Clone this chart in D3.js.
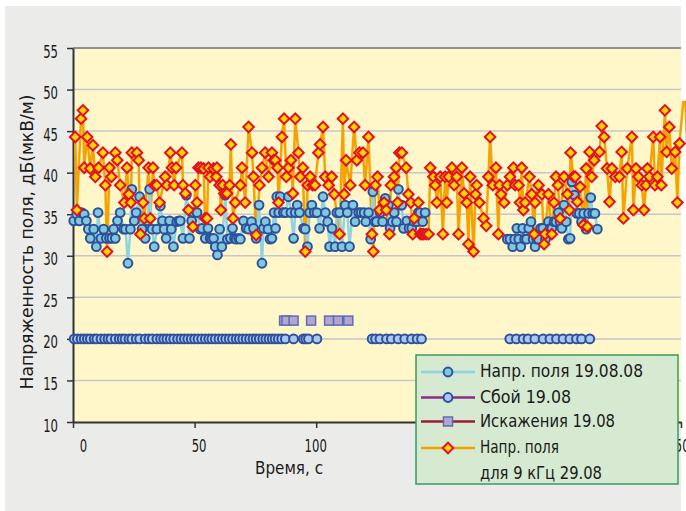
<!DOCTYPE html>
<html>
<head>
<meta charset="utf-8">
<script src="https://cdn.jsdelivr.net/npm/d3@7"></script>
<style>
  body { margin: 0; background: #ffffff; }
  svg text { font-family: "Liberation Sans Narrow", "Arial Narrow", "DejaVu Sans Condensed", sans-serif; fill: #1a1a1a; }
</style>
</head>
<body>
<svg id="chart" width="686" height="511"></svg>
<script>
// Field strength 19.08.08, measurement time (s) and level dB(uV/m); null marks a break in the record
const fieldAug19 = [
  [0.3,34.2],[1.5,35.0],[2.6,34.2],[3.6,35.2],[4.6,35.0],[5.5,34.2],[6.3,33.2],[7.1,32.1],[8.5,33.2],[9.6,31.1],
  [10.3,35.2],[11.5,32.1],[12.6,33.2],[13.7,32.1],[15.0,32.1],[16.0,32.1],[16.7,33.2],[17.4,32.1],[18.3,34.2],[19.4,35.2],
  [20.8,33.2],[21.6,33.2],[22.6,29.1],[23.6,33.2],[24.2,38.0],[25.2,34.2],[26.0,35.2],[27.4,37.1],[28.4,33.2],[29.7,32.1],
  [30.6,34.2],[31.5,38.0],[32.5,33.2],[33.4,31.1],[34.5,33.2],[35.9,36.0],[36.8,34.2],[37.5,33.2],[38.3,32.1],[39.7,34.2],
  [40.4,33.2],[41.3,31.1],[42.7,34.1],[43.6,34.2],[44.1,34.2],[45.2,32.1],[46.6,37.3],[47.9,32.1],[48.8,34.2],[49.6,35.2],
  [51.0,35.2],[52.3,33.2],[53.0,33.3],[54.4,32.1],[55.5,33.3],[56.4,32.1],[57.1,32.0],[57.8,32.1],[58.5,31.1],[59.4,30.1],
  [60.3,33.2],[61.2,31.1],[62.6,37.3],[63.5,32.0],[64.7,32.1],[65.6,33.3],[66.4,32.1],[67.1,32.0],[68.1,32.1],[68.8,32.0],
  [70.1,34.2],[71.2,33.3],[72.2,33.2],[73.4,34.1],[74.2,33.3],[75.3,32.1],[76.5,36.1],[77.7,29.1],[78.3,33.3],[79.1,34.1],
  [80.2,33.2],[81.0,32.0],[81.8,32.1],[82.7,35.2],[83.3,33.3],[83.8,37.1],[84.6,35.2],[85.2,37.1],[86.5,35.2],[87.4,35.2],
  [88.6,37.1],[89.6,35.2],[90.7,32.1],[91.4,35.2],[92.2,36.1],[93.1,35.2],[94.8,33.3],[95.5,33.2],[96.4,31.1],[97.3,35.2],
  [98.2,36.1],[99.2,35.2],[100.3,35.2],[101.4,33.3],[102.8,37.1],[103.8,35.2],[104.7,34.1],[105.5,31.1],[106.5,33.3],[107.8,31.1],
  [108.5,35.2],[109.6,35.2],[110.6,31.1],[111.9,36.1],[112.8,35.2],[113.7,31.1],[115.1,36.1],[116.0,34.1],[117.5,35.2],[118.5,35.2],
  [119.7,35.2],[120.4,34.1],[121.5,35.2],[122.4,32.0],[123.3,37.7],[124.2,34.1],[124.8,34.1],[126.3,35.2],[127.3,34.1],[128.4,36.9],
  [129.7,36.1],[130.4,33.3],[131.3,34.1],[132.1,35.2],[133.0,34.1],[133.8,38.0],[134.5,36.1],[135.2,36.1],[135.9,33.3],[137.3,34.2],
  [138.2,33.3],[139.3,33.3],[140.3,34.1],[141.4,34.1],[142.0,35.2],[142.7,35.2],[143.8,34.1],[144.8,35.2],
  null,
  [178.6,32.0],[179.7,32.0],[180.8,31.1],[181.6,32.0],[182.5,33.3],[183.3,32.0],[184.1,31.1],[184.9,33.3],[185.7,32.0],[186.5,32.0],
  [187.4,33.3],[188.3,34.1],[189.2,32.0],[190.0,31.1],[190.7,32.0],[191.4,32.0],[192.3,33.3],[193.2,33.3],[194.3,32.0],[195.5,34.1],
  [196.2,33.3],[196.9,33.3],[197.8,34.1],[198.6,34.1],[199.6,35.2],[200.3,34.1],[201.0,33.3],[201.9,36.1],[202.8,34.1],[203.7,32.0],
  [204.4,32.1],[205.1,38.9],[206.2,37.3],[207.2,35.1],[208.2,35.1],[209.1,34.1],[210.0,35.1],[211.0,33.2],[212.0,35.1],[212.9,37.0],
  [213.7,35.1],[214.6,35.1],[215.6,33.2]
];

// Receiver failures 19.08, time (s) and level
const failAug19 = [
  [0.5,20],[1.8,20],[3.3,20],[4.6,20],[5.9,20],[7.1,20],[8.7,20],[9.8,20],[11.5,20],[13.0,20],
  [14.4,20],[15.6,20],[17.4,20],[19.0,20],[20.2,20],[21.4,20],[23.0,20],[24.2,20],[26.0,20],[27.4,20],
  [29.7,20],[31.2,20],[32.6,20],[34.5,20],[36.0,20],[37.3,20],[38.6,20],[40.0,20],[41.4,20],[43.0,20],
  [44.4,20],[45.8,20],[47.2,20],[48.6,20],[50.0,20],[51.4,20],[52.9,20],[54.4,20],[55.8,20],[57.1,20],
  [58.5,20],[60.0,20],[61.4,20],[62.8,20],[64.2,20],[65.6,20],[67.1,20],[68.4,20],[69.8,20],[71.2,20],
  [72.6,20],[74.0,20],[75.3,20],[76.6,20],[78.0,20],[79.3,20],[80.6,20],[81.9,20],[83.1,20],[84.4,20],
  [85.8,20],[87.3,20],[90.7,20],[94.7,20],[95.7,20],[96.8,20],[100.3,20],
  [123.0,20],[124.4,20],[126.2,20],[128.9,20],[130.9,20],[133.7,20],[136.4,20],[139.2,20],[141.5,20],[143.3,20],
  [179.6,20],[182.3,20],[185.1,20],[187.1,20],[189.9,20],[193.3,20],[196.1,20],[198.8,20],[201.5,20],[204.3,20],
  [207.0,20],[209.1,20],[212.5,20]
];

// Distortions 19.08, time (s) and level
const distortAug19 = [
  [86.8,22.2],[87.8,22.2],[90.7,22.2],[97.9,22.2],[105.3,22.2],[109.0,22.2],[113.2,22.2]
];

// Field strength for 9 kHz 29.08, time (s) and level dB(uV/m)
const field9kHz = [
  [0.9,44.3],[1.6,35.5],[3.3,46.5],[4.1,47.5],[4.6,40.6],[5.8,44.3],[7.1,40.5],[8.2,43.3],[9.2,39.5],[10.5,40.6],
  [12.3,42.4],[13.3,38.5],[14.0,30.5],[15.0,40.6],[15.8,39.5],[17.4,42.4],[18.2,41.5],[19.4,38.5],[21.1,36.4],[22.2,40.6],
  [23.0,37.4],[23.8,36.4],[24.2,42.4],[26.3,42.4],[27.0,41.5],[27.7,32.6],[28.8,36.4],[29.3,34.5],[31.1,40.6],[31.8,34.5],
  [32.9,40.6],[33.4,38.5],[34.4,38.5],[35.6,36.4],[37.9,39.5],[38.6,38.5],[40.0,42.4],[40.7,40.6],[41.6,38.5],[42.4,40.6],
  [44.8,42.4],[45.2,38.5],[46.2,37.5],[47.5,35.5],[49.3,33.5],[50.3,38.5],[51.0,36.4],[51.6,40.6],[52.6,40.6],[53.7,40.5],
  [54.3,34.5],[55.1,34.5],[55.7,40.6],[56.4,39.5],[57.8,40.5],[58.9,39.5],[59.2,40.6],[60.3,38.5],[60.8,35.5],[61.6,38.5],
  [62.2,37.5],[63.3,37.5],[64.4,38.5],[64.9,43.4],[65.8,34.5],[66.7,36.4],[68.8,38.5],[69.5,40.6],[70.8,36.4],[72.2,45.5],
  [73.6,42.4],[74.2,39.5],[75.3,32.5],[76.7,38.5],[77.7,40.6],[79.0,42.4],[80.4,39.5],[81.8,42.4],[82.5,41.5],[83.2,41.5],
  [84.1,40.6],[84.5,36.4],[85.9,44.3],[86.8,46.5],[87.7,39.5],[88.6,40.6],[89.6,41.5],[90.4,37.5],[91.4,46.5],[92.7,42.4],
  [93.4,39.5],[94.5,40.6],[95.5,30.5],[96.5,38.5],[97.5,39.5],[98.5,38.5],[99.5,38.5],[100.9,42.4],[101.6,43.4],[102.8,45.5],
  [103.7,39.5],[105.1,38.5],[106.4,39.5],[107.4,37.4],[109.6,32.6],[111.0,46.5],[111.5,37.4],[112.3,41.5],[114.0,38.5],[115.6,45.5],
  [116.7,41.5],[117.8,42.4],[119.2,42.4],[120.1,38.5],[121.5,44.3],[122.9,32.6],[123.5,30.5],[124.3,38.5],[125.2,39.5],[126.0,35.5],
  [127.9,36.4],[128.8,35.5],[130.1,32.6],[130.7,38.5],[132.0,39.5],[132.9,40.6],[133.5,36.4],[134.2,42.4],[135.2,42.4],[137.0,40.6],
  [137.9,37.4],[138.9,36.4],[139.7,32.6],[140.3,34.5],[142.0,36.4],[142.8,32.6],[143.5,32.6],[144.2,32.6],[145.2,32.6],[146.2,32.6],
  [146.9,40.6],[148.2,39.5],[148.9,38.5],[149.6,36.4],[151.0,39.5],[152.1,32.6],[153.0,39.5],[153.7,36.4],[154.5,39.5],[155.8,40.6],
  [156.7,38.5],[157.8,39.5],[158.5,32.6],[159.9,40.6],[160.8,37.5],[161.9,36.4],[162.6,31.4],[163.3,39.5],[164.7,30.5],[165.5,37.4],
  [166.0,38.5],[167.1,36.4],[168.8,34.5],[169.9,33.6],[170.8,39.5],[171.5,44.3],[172.6,38.5],[173.9,40.6],[174.9,32.6],[175.4,38.5],
  [176.0,37.4],[177.3,36.4],[178.6,38.5],[179.7,39.5],[181.1,40.6],[181.8,38.5],[183.2,38.5],[183.8,36.4],[184.5,40.6],[185.2,35.5],
  [185.9,36.4],[187.7,39.5],[188.6,37.4],[189.6,32.6],[190.0,36.4],[191.4,38.5],[192.8,37.4],[193.7,31.4],[194.1,32.6],[195.5,37.4],
  [196.9,32.6],[197.8,36.4],[198.6,39.5],[199.4,38.5],[200.3,34.5],[201.9,39.5],[203.3,37.4],[204.1,35.5],[204.6,42.4],[205.8,39.5],
  [206.5,39.5],[207.4,36.5],[208.5,38.3],[209.9,33.7],[211.0,40.5],[211.5,33.5],[212.4,42.5],[213.3,39.5],[214.3,41.5],[216.5,42.5],
  [217.4,45.6],[218.4,44.3],[219.6,40.5],[220.6,36.5],[221.6,40.5],[223.0,39.5],[224.7,39.5],[225.6,42.5],[226.3,34.5],[227.9,40.5],
  [229.8,44.3],[230.4,35.5],[231.5,40.5],[232.5,39.5],[233.9,38.5],[234.8,35.5],[235.6,38.5],[236.2,40.5],[237.0,39.5],[238.6,44.3],
  [239.3,38.5],[240.3,39.5],[241.4,44.3],[241.9,38.5],[243.4,47.5],[244.1,42.5],[245.2,45.5],[246.2,40.5],[247.6,42.5],[248.5,36.4],
  [249.4,43.5],[250.9,48.5],[251.8,48.5],[253.0,40.0]
];

const xTicks = [0, 50, 100, 150, 200, 250];
const yTicks = [10, 15, 20, 25, 30, 35, 40, 45, 50, 55];
const xTitle = "Время, с";
const yTitle = "Напряженность поля, дБ(мкВ/м)";
const legendItems = [
  { key: "fieldAug19", lines: ["Напр. поля 19.08.08"], width: [163] },
  { key: "failAug19", lines: ["Сбой 19.08"], width: [91] },
  { key: "distortAug19", lines: ["Искажения 19.08"], width: [135] },
  { key: "field9kHz", lines: ["Напр. поля", "для 9 кГц 29.08"], width: [79, 122] }
];

const svg = d3.select("#chart");

// outer panel
svg.append("rect").attr("x", 5).attr("y", 6).attr("width", 676).attr("height", 505).attr("fill", "#ebecea");

const x = d3.scaleLinear().domain([0, 250]).range([73, 681]);
const y = d3.scaleLinear().domain([10, 55]).range([422, 48]);

// plot area
svg.append("rect")
  .attr("x", x(0)).attr("y", y(55))
  .attr("width", x(250) - x(0)).attr("height", y(10) - y(55))
  .attr("fill", "#fff7c9");

// horizontal gridlines
svg.append("g").selectAll("line")
  .data(yTicks.filter(v => v > 10 && v < 55))
  .join("line")
  .attr("x1", x(0)).attr("x2", x(250))
  .attr("y1", d => y(d)).attr("y2", d => y(d))
  .attr("stroke", "#c6c6cb").attr("stroke-width", 1.5);

// top frame line
svg.append("line")
  .attr("x1", x(0)).attr("x2", x(250))
  .attr("y1", y(55)).attr("y2", y(55))
  .attr("stroke", "#8f8f8f").attr("stroke-width", 2);

// axes
const yAxis = svg.append("g")
  .attr("transform", `translate(${x(0)},0)`)
  .call(d3.axisLeft(y).tickValues(yTicks).tickSize(6).tickSizeOuter(0).tickPadding(9));
const xAxis = svg.append("g")
  .attr("transform", `translate(0,${y(10)})`)
  .call(d3.axisBottom(x).tickValues(xTicks).tickSize(6).tickSizeOuter(0).tickPadding(11));

[yAxis, xAxis].forEach(g => {
  g.select(".domain").attr("stroke", "#333").attr("stroke-width", 2);
  g.selectAll(".tick line").attr("stroke", "#333").attr("stroke-width", 1.5);
  g.selectAll(".tick text")
    .attr("font-size", 18)
    .attr("fill", "#1a1a1a")
    .attr("lengthAdjust", "spacingAndGlyphs")
    .attr("textLength", d => String(d).length * 7.4);
});
yAxis.selectAll(".tick text").attr("dy", "0.5em");
const xLabelShift = { 0: 10, 50: 4, 100: -1, 250: -3 };
xAxis.selectAll(".tick text").attr("dx", d => xLabelShift[d] || 0);

// axis titles
svg.append("text")
  .attr("x", 289).attr("y", 474)
  .attr("text-anchor", "middle")
  .attr("font-size", 18)
  .attr("textLength", 68).attr("lengthAdjust", "spacingAndGlyphs")
  .text(xTitle);
svg.append("text")
  .attr("transform", "translate(33,242) rotate(-90)")
  .attr("text-anchor", "middle")
  .attr("font-size", 18)
  .attr("textLength", 295).attr("lengthAdjust", "spacingAndGlyphs")
  .text(yTitle);

// series styles
const style = {
  fieldAug19: { line: "#8fd3e3", fill: "#7ecadb", stroke: "#2e4f9d" },
  failAug19: { line: "#8e2a8c", fill: "#a9c9ee", stroke: "#2e4f9d" },
  distortAug19: { line: "#9c1c30", fill: "#b8a4d1", stroke: "#5670b6" },
  field9kHz: { line: "#f6a200", fill: "#ffd400", stroke: "#e4101d" }
};

const line = d3.line().defined(d => d !== null).x(d => x(d[0])).y(d => y(d[1]));

// connecting lines
svg.append("path").datum(field9kHz)
  .attr("d", line).attr("fill", "none")
  .attr("stroke", style.field9kHz.line).attr("stroke-width", 2.5).attr("stroke-linejoin", "round");
svg.append("path").datum(fieldAug19)
  .attr("d", line).attr("fill", "none")
  .attr("stroke", style.fieldAug19.line).attr("stroke-width", 2.5).attr("stroke-linejoin", "round");

// markers
const inDomain = d => d !== null && d[0] <= 250;

svg.append("g").selectAll("circle")
  .data(failAug19.filter(inDomain))
  .join("circle")
  .attr("cx", d => x(d[0])).attr("cy", d => y(d[1])).attr("r", 4.4)
  .attr("fill", style.failAug19.fill).attr("stroke", style.failAug19.stroke).attr("stroke-width", 2);

svg.append("g").selectAll("rect")
  .data(distortAug19.filter(inDomain))
  .join("rect")
  .attr("x", d => x(d[0]) - 4.5).attr("y", d => y(d[1]) - 4.5)
  .attr("width", 9).attr("height", 9)
  .attr("fill", style.distortAug19.fill).attr("stroke", style.distortAug19.stroke).attr("stroke-width", 1.5);

svg.append("g").selectAll("circle")
  .data(fieldAug19.filter(inDomain))
  .join("circle")
  .attr("cx", d => x(d[0])).attr("cy", d => y(d[1])).attr("r", 4.4)
  .attr("fill", style.fieldAug19.fill).attr("stroke", style.fieldAug19.stroke).attr("stroke-width", 2);

const diamond = d3.symbol().type(d3.symbolSquare).size(56);
svg.append("g").selectAll("path")
  .data(field9kHz.filter(inDomain))
  .join("path")
  .attr("d", diamond)
  .attr("transform", d => `translate(${x(d[0])},${y(d[1])}) rotate(45)`)
  .attr("fill", style.field9kHz.fill).attr("stroke", style.field9kHz.stroke).attr("stroke-width", 2);

// legend
const lg = svg.append("g").attr("transform", "translate(416,355)");
lg.append("rect").attr("width", 262).attr("height", 129)
  .attr("fill", "#d5ead1").attr("stroke", "#3b9a5e").attr("stroke-width", 1.5);

const rowY = [17, 42.5, 66.5, 93];
legendItems.forEach((item, i) => {
  const st = style[item.key];
  const g = lg.append("g").attr("transform", `translate(0,${rowY[i]})`);
  g.append("line").attr("x1", 5).attr("x2", 59).attr("y1", 0).attr("y2", 0)
    .attr("stroke", st.line).attr("stroke-width", 2.5);
  if (item.key === "distortAug19") {
    g.append("rect").attr("x", 32 - 4.5).attr("y", -4.5).attr("width", 9).attr("height", 9)
      .attr("fill", st.fill).attr("stroke", st.stroke).attr("stroke-width", 1.5);
  } else if (item.key === "field9kHz") {
    g.append("path").attr("d", diamond).attr("transform", "translate(32,0) rotate(45)")
      .attr("fill", st.fill).attr("stroke", st.stroke).attr("stroke-width", 2);
  } else {
    g.append("circle").attr("cx", 32).attr("cy", 0).attr("r", 4.4)
      .attr("fill", st.fill).attr("stroke", st.stroke).attr("stroke-width", 2);
  }
  item.lines.forEach((t, j) => {
    g.append("text")
      .attr("x", 64).attr("y", 5 + j * 26)
      .attr("font-size", 18)
      .attr("textLength", item.width[j]).attr("lengthAdjust", "spacingAndGlyphs")
      .text(t);
  });
});
</script>
</body>
</html>
